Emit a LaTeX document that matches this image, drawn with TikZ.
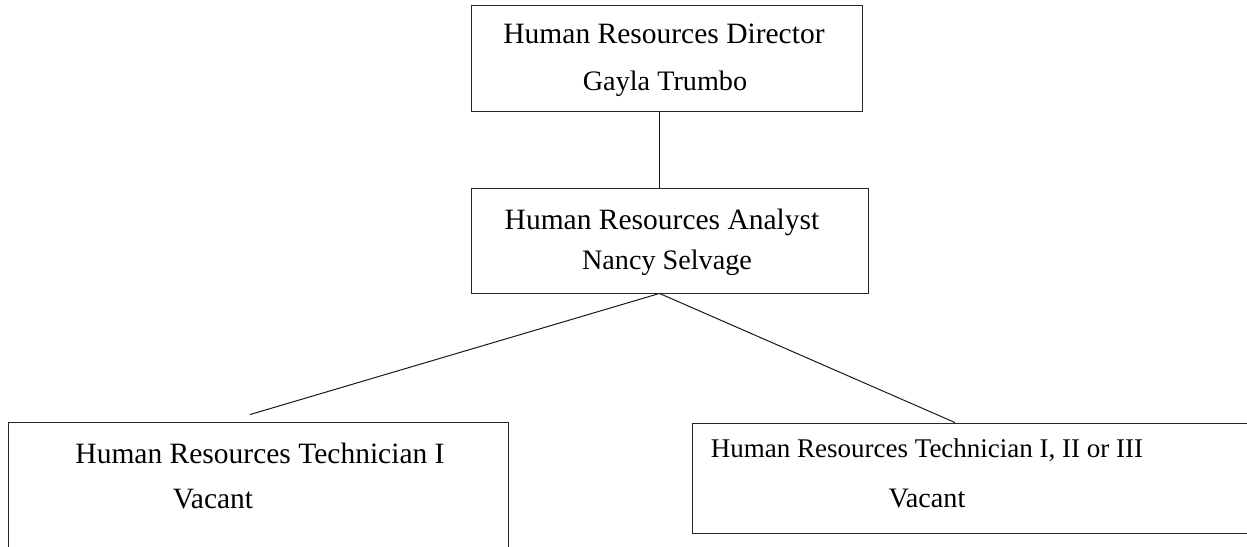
\documentclass[tikz,border=0pt]{standalone}
\usepackage{fontspec}
\setmainfont{Liberation Serif}
\tikzset{post/.style = {shape=rectangle,draw=black!85,line width=0.9pt,inner sep=0pt}}
\tikzset{title/.style = {font=\fontsize{29.5}{32}\selectfont,anchor=base,inner sep=0pt}}
\tikzset{holder/.style = {font=\fontsize{28.2}{31}\selectfont,anchor=base,inner sep=0pt}}
\tikzset{link/.style = {draw=black!90,line width=1pt}}

\begin{document}
\begin{tikzpicture}[x=1pt,y=-1pt]
      \clip (0,0) rectangle (1247,546);
      \node[post,minimum width=391,minimum height=106] (dir) at (666.5,58) {};
      \node[post,minimum width=397,minimum height=105] (ana) at (669.5,240.5) {};
      \node[post,minimum width=500,minimum height=178] (lt) at (258,511) {};
      \node[post,minimum width=588,minimum height=110] (rt) at (986,478) {};

      \node[title] (dirT) at (664,43) {Human Resources Director};
      \node[holder] (dirN) at (665,90) {Gayla Trumbo};
      \node[title] (anaT) at (662,229) {Human Resources Analyst};
      \node[holder] (anaN) at (667,269) {Nancy Selvage};
      \node[title] (ltT) at (260,463) {Human Resources Technician I};
      \node[holder,font=\fontsize{29.5}{32}\selectfont] (ltN) at (213,508) {Vacant};
      \node[title,font=\fontsize{27}{30}\selectfont] (rtT) at (927,457) {Human Resources Technician I, II or III};
      \node[holder] (rtN) at (927,507) {Vacant};

      \path[link] ([xshift=-7.5pt]dir.south) edge ([xshift=-10.5pt]ana.north);
      \path[link] ([xshift=-10pt]ana.south) edge ([xshift=-8pt,yshift=7pt]lt.north);
      \path[link] ([xshift=-10pt]ana.south) edge ([xshift=-31pt]rt.north);
    \end{tikzpicture}
\end{document}
